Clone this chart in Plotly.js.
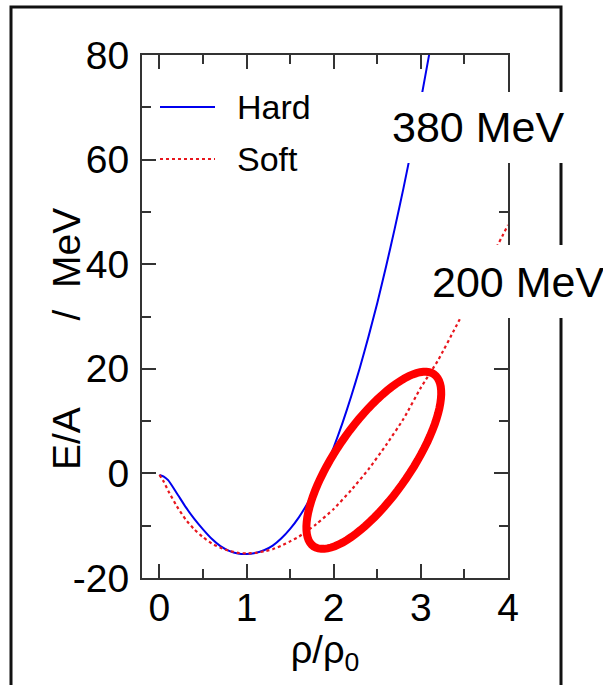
<!DOCTYPE html>
<html>
<head>
<meta charset="utf-8">
<script src="https://cdn.plot.ly/plotly-3.0.1.min.js"></script>
<style>html,body{margin:0;padding:0;background:#fff;}#chart{width:603px;height:685px;}</style>
</head>
<body>
<div id="chart"></div>
<script>
// ---- data ----
const hardRho = [0.0,0.05,0.1,0.2,0.3,0.4,0.5,0.6,0.7,0.8,0.9,1.0,1.1,1.2,1.3,1.4,1.5,1.6,1.7,1.8,1.9,2.0,2.1,2.2,2.3,2.4,2.5,2.6,2.7,2.8,2.9,3.0,3.1,3.15];
const hardE   = [-0.3,-0.6,-1.3,-3.8,-6.4,-8.7,-10.7,-12.5,-13.9,-14.8,-15.3,-15.4,-15.2,-14.7,-13.8,-12.4,-10.6,-8.4,-5.7,-2.6,0.9,5.0,9.6,14.7,20.2,26.2,32.6,39.5,46.8,54.5,62.7,71.4,80.5,85.2];
const softRho = [0.0,0.05,0.1,0.2,0.3,0.4,0.5,0.6,0.7,0.8,0.9,1.0,1.1,1.2,1.3,1.4,1.5,1.6,1.8,2.0,2.2,2.4,2.6,2.8,3.0,3.2,3.4,3.6,3.8,4.0];
const softE   = [-0.3,-1.6,-3.3,-6.3,-8.8,-10.7,-12.2,-13.4,-14.2,-14.8,-15.2,-15.3,-15.2,-14.9,-14.5,-13.8,-13.0,-12.1,-9.7,-6.8,-3.2,0.8,5.4,10.4,16.4,21.7,28.0,34.4,41.0,47.5];
const seriesNames = ['Hard','Soft'];
const yTickVals = [-20,0,20,40,60,80];
const yTickText = ['-20','0','20','40','60','80'];
const xTickVals = [0,1,2,3,4];
const xTickText = ['0','1','2','3','4'];
const xTitle = 'ρ/ρ<sub>0</sub>';
const yTitleParts = ['E/A','/','MeV'];
const labelHard = '380 MeV';
const labelSoft = '200 MeV';

// ---- geometry ----
const W = 603, H = 685;
const mL = 142, mR = 95, mT = 55, mB = 107;
const plotW = W - mL - mR, plotH = H - mT - mB;
const xr = [-0.2, 4.0], yr = [-20, 80];
const kx = plotW / (xr[1]-xr[0]);   // px per data unit
const ky = plotH / (yr[1]-yr[0]);
const px2paperX = p => (p - mL) / plotW;
const py2paperY = p => (H - mB - p) / plotH;

// highlighted ellipse (annotation mark)
const ell = {cx: 2.46, cy: 2.5, a: 105, b: 37, deg: 55};
function ellipsePath(e) {
  const th = e.deg * Math.PI / 180, n = 90;
  let d = '';
  for (let i = 0; i <= n; i++) {
    const t = 2 * Math.PI * i / n;
    const dx = e.a * Math.cos(t) * Math.cos(th) - e.b * Math.sin(t) * Math.sin(th);
    const dy = e.a * Math.cos(t) * Math.sin(th) + e.b * Math.sin(t) * Math.cos(th);
    const x = e.cx + dx / kx, y = e.cy + dy / ky;
    d += (i === 0 ? 'M' : 'L') + x.toFixed(4) + ',' + y.toFixed(4);
  }
  return d + 'Z';
}

const FONT = 'Liberation Sans, Arial, Helvetica, sans-serif';
const traces = [
  {x: hardRho, y: hardE, name: seriesNames[0], mode: 'lines', line: {color: '#0000ee', width: 2, shape: 'spline', smoothing: 0.5}, hoverinfo: 'skip'},
  {x: softRho, y: softE, name: seriesNames[1], mode: 'lines', line: {color: '#e8161d', width: 2.2, dash: 'dot', shape: 'spline', smoothing: 0.5}, hoverinfo: 'skip'}
];

const axisCommon = {
  showline: true, linecolor: '#333', linewidth: 2, mirror: 'ticks',
  ticks: 'inside', tickcolor: '#333', tickwidth: 2, ticklen: 14,
  showgrid: false, zeroline: false,
  tickfont: {family: FONT, size: 39, color: '#000'}
};

const nb = n => '\u00a0'.repeat(n);
const layout = {
  width: W, height: H,
  margin: {l: mL, r: mR, t: mT, b: mB, pad: 0},
  paper_bgcolor: '#fff', plot_bgcolor: '#fff',
  showlegend: false,
  xaxis: Object.assign({}, axisCommon, {
    range: xr, tickmode: 'array', tickvals: xTickVals, ticktext: xTickText,
    minor: {dtick: 0.5, tick0: 0, ticks: 'inside', ticklen: 9, tickwidth: 2, tickcolor: '#333'},
    ticklabelstandoff: -6,
    title: {text: xTitle, font: {family: FONT, size: 38, color: '#000'}, standoff: 6}
  }),
  yaxis: Object.assign({}, axisCommon, {
    range: yr, tickmode: 'array', tickvals: yTickVals, ticktext: yTickText,
    minor: {dtick: 10, tick0: 0, ticks: 'inside', ticklen: 9, tickwidth: 2, tickcolor: '#333'},
    ticklabelstandoff: 3
  }),
  shapes: [
    // outer frame of the figure
    {type: 'rect', xref: 'paper', yref: 'paper', x0: px2paperX(11), x1: px2paperX(561), y0: py2paperY(700), y1: py2paperY(7),
     line: {color: '#111', width: 3}, fillcolor: 'rgba(0,0,0,0)', layer: 'above'},
    // custom legend samples
    {type: 'line', xref: 'paper', yref: 'paper', x0: px2paperX(160), x1: px2paperX(215), y0: py2paperY(107), y1: py2paperY(107),
     line: {color: '#0000ee', width: 2}, layer: 'above'},
    {type: 'line', xref: 'paper', yref: 'paper', x0: px2paperX(160), x1: px2paperX(215), y0: py2paperY(159), y1: py2paperY(159),
     line: {color: '#e8161d', width: 2.2, dash: 'dot'}, layer: 'above'},
    // highlight ellipse
    {type: 'path', xref: 'x', yref: 'y', path: ellipsePath(ell), line: {color: '#ff0000', width: 8}, fillcolor: 'rgba(0,0,0,0)', layer: 'above'},
    // white label boxes
    {type: 'rect', xref: 'paper', yref: 'paper', x0: px2paperX(385), x1: px2paperX(610), y0: py2paperY(163), y1: py2paperY(92),
     line: {width: 0}, fillcolor: '#fff', layer: 'above'},
    {type: 'rect', xref: 'paper', yref: 'paper', x0: px2paperX(425), x1: px2paperX(610), y0: py2paperY(318), y1: py2paperY(245),
     line: {width: 0}, fillcolor: '#fff', layer: 'above'}
  ],
  annotations: [
    // y-axis title
    {xref: 'paper', yref: 'paper', x: px2paperX(66), y: py2paperY(339), xanchor: 'center', yanchor: 'middle', showarrow: false,
     textangle: -90, text: yTitleParts[0] + nb(8) + yTitleParts[1] + nb(2) + yTitleParts[2], font: {family: FONT, size: 39, color: '#000'}},
    // legend texts
    {xref: 'paper', yref: 'paper', x: px2paperX(235), y: py2paperY(107), xanchor: 'left', yanchor: 'middle', showarrow: false,
     text: seriesNames[0], font: {family: FONT, size: 34, color: '#000'}},
    {xref: 'paper', yref: 'paper', x: px2paperX(235), y: py2paperY(159), xanchor: 'left', yanchor: 'middle', showarrow: false,
     text: seriesNames[1], font: {family: FONT, size: 34, color: '#000'}},
    // stiffness labels
    {xref: 'paper', yref: 'paper', x: px2paperX(390), y: py2paperY(127), xanchor: 'left', yanchor: 'middle', showarrow: false,
     text: labelHard, font: {family: FONT, size: 43, color: '#000'}},
    {xref: 'paper', yref: 'paper', x: px2paperX(430), y: py2paperY(282), xanchor: 'left', yanchor: 'middle', showarrow: false,
     text: labelSoft, font: {family: FONT, size: 43, color: '#000'}}
  ]
};

Plotly.newPlot('chart', traces, layout, {staticPlot: true, displayModeBar: false});
</script>
</body>
</html>
